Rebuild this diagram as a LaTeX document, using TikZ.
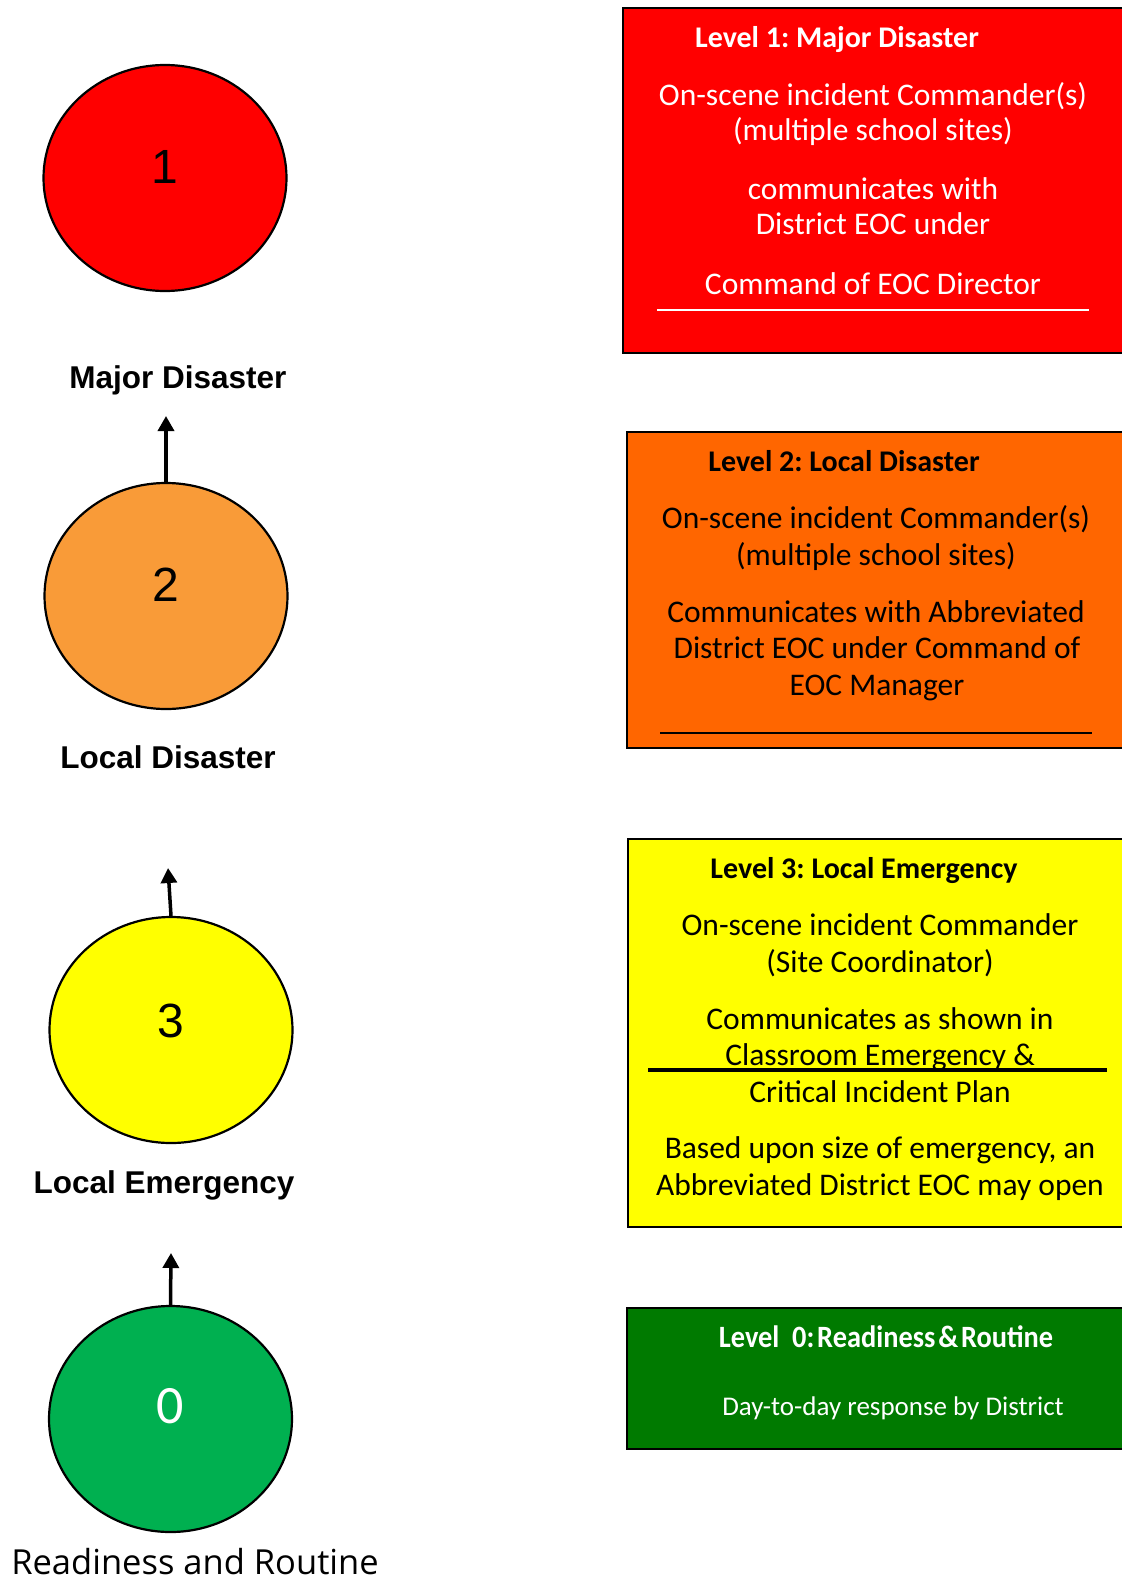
\documentclass[tikz,border=0pt]{standalone}
\usepackage{fontspec}
\setmainfont{Carlito}
\newfontfamily\arialf{Liberation Sans}
\newfontfamily\osans{Open Sans}
\usetikzlibrary{shapes.geometric,arrows.meta}
\definecolor{cred}{HTML}{FF0000}
\definecolor{corange}{HTML}{F99B38}
\definecolor{cyellow}{HTML}{FFFF00}
\definecolor{cgreen}{HTML}{00B050}
\definecolor{bred}{HTML}{FF0000}
\definecolor{borange}{HTML}{FF6600}
\definecolor{byellow}{HTML}{FFFF00}
\definecolor{bgreen}{HTML}{007A00}
\tikzset{
  lvl/.style={ellipse,draw=black,line width=2.2pt,minimum width=243pt,minimum height=226pt,inner sep=0pt},
  num/.style={anchor=base,inner sep=0pt,font=\arialf\fontsize{48}{50}\selectfont},
  clab/.style={anchor=base,inner sep=0pt,font=\arialf\bfseries\fontsize{31.5}{34}\selectfont},
  lvlbox/.style={draw=black,line width=1.6pt},
  ttl/.style={anchor=base,inner sep=0pt,font=\bfseries\fontsize{30}{34}\selectfont},
  body/.style={anchor=base,inner sep=0pt,font=\fontsize{31.5}{36}\selectfont},
  arr/.style={line width=3.5pt,-{Triangle[length=15pt,width=16pt]}}
}
\frenchspacing
\begin{document}
\begin{tikzpicture}[x=1pt,y=-1pt]
\useasboundingbox (0,0) rectangle (1122,1583);
\clip (0,0) rectangle (1122,1583);
% circles
\node[lvl,fill=cred] (c1) at (165,178) {};
\node[lvl,fill=corange] (c2) at (166,596) {};
\node[lvl,fill=cyellow] (c3) at (171,1030) {};
\node[lvl,fill=cgreen] (c0) at (170.5,1419) {};
\node[num] (n1) at (165,183) {1};
\node[num] (n2) at (166,601) {2};
\node[num] (n3) at (171,1037) {3};
\node[num,font=\fontsize{54}{56}\selectfont,text=white] (n0) at (170,1423) {0};
% circle labels
\node[clab] (l1) at (178,388) {Major Disaster};
\node[clab] (l2) at (168,768) {Local Disaster};
\node[clab] (l3) at (164,1193) {Local Emergency};
\node[anchor=base,inner sep=0pt,font=\osans\fontsize{34.5}{36}\selectfont] (l0) at (195,1574) {Readiness and Routine};
% arrows
\coordinate (a2) at (166,416);
\coordinate (a3) at (168,868);
\coordinate (a0) at (171,1253);
\draw[arr] (c2.north) -- (a2);
\draw[arr] (c3.north) -- (a3);
\draw[arr] (c0.north) -- (a0);
% box 1
\node[lvlbox,fill=bred,minimum width=520pt,minimum height=345pt,anchor=north west,inner sep=0pt] (b1) at (622,7) {};
\node[ttl,text=white] (b1t) at (837,47) {Level 1: Major Disaster};
\node[body,text=white] (b1a) at (873,105) {On-scene incident Commander(s)};
\node[body,text=white] (b1b) at (873,140) {(multiple school sites)};
\node[body,text=white] (b1c) at (873,199) {communicates with};
\node[body,text=white] (b1d) at (873,234) {District EOC under};
\node[body,text=white] (b1e) at (873,294) {Command of EOC Director};
\coordinate (b1l) at (657,310);
\coordinate (b1r) at (1089,310);
\draw[white,line width=1.3pt] (b1l) -- (b1r);
% box 2
\node[lvlbox,fill=borange,minimum width=520pt,minimum height=316pt,anchor=north west,inner sep=0pt] (b2) at (626,431) {};
\node[ttl] (b2t) at (844,471) {Level 2: Local Disaster};
\node[body] (b2a) at (876,528) {On-scene incident Commander(s)};
\node[body] (b2b) at (876,565) {(multiple school sites)};
\node[body] (b2c) at (876,622) {Communicates with Abbreviated};
\node[body] (b2d) at (877,658) {District EOC under Command of};
\node[body] (b2e) at (877,695) {EOC Manager};
\coordinate (b2l) at (660,733);
\coordinate (b2r) at (1092,733);
\draw[black,line width=1.3pt] (b2l) -- (b2r);
% box 3
\node[lvlbox,fill=byellow,minimum width=520pt,minimum height=388pt,anchor=north west,inner sep=0pt] (b3) at (627,838) {};
\node[ttl] (b3t) at (864,878) {Level 3: Local Emergency};
\node[body] (b3a) at (880,935) {On-scene incident Commander};
\node[body] (b3b) at (880,972) {(Site Coordinator)};
\node[body] (b3c) at (880,1029) {Communicates as shown in};
\node[body] (b3d) at (880,1065) {Classroom Emergency \&};
\node[body] (b3e) at (880,1102) {Critical Incident Plan};
\node[body] (b3f) at (880,1158) {Based upon size of emergency, an};
\node[body] (b3g) at (880,1195) {Abbreviated District EOC may open};
\coordinate (b3l) at (648,1070);
\coordinate (b3r) at (1107,1070);
\draw[black,line width=4pt] (b3l) -- (b3r);
% box 0
\node[lvlbox,fill=bgreen,minimum width=520pt,minimum height=141pt,anchor=north west,inner sep=0pt] (b0) at (626,1307) {};
\node[ttl,text=white,font=\bfseries\fontsize{31}{34}\selectfont] (b0t) at (886,1347) {\scalebox{0.915}[1]{Level\ \ 0:\hspace{0.1em}Readiness\hspace{0.1em}\&\hspace{0.1em}Routine}};
\node[body,text=white,font=\fontsize{27}{30}\selectfont] (b0a) at (893,1415) {Day-to-day response by District};
\end{tikzpicture}
\end{document}
